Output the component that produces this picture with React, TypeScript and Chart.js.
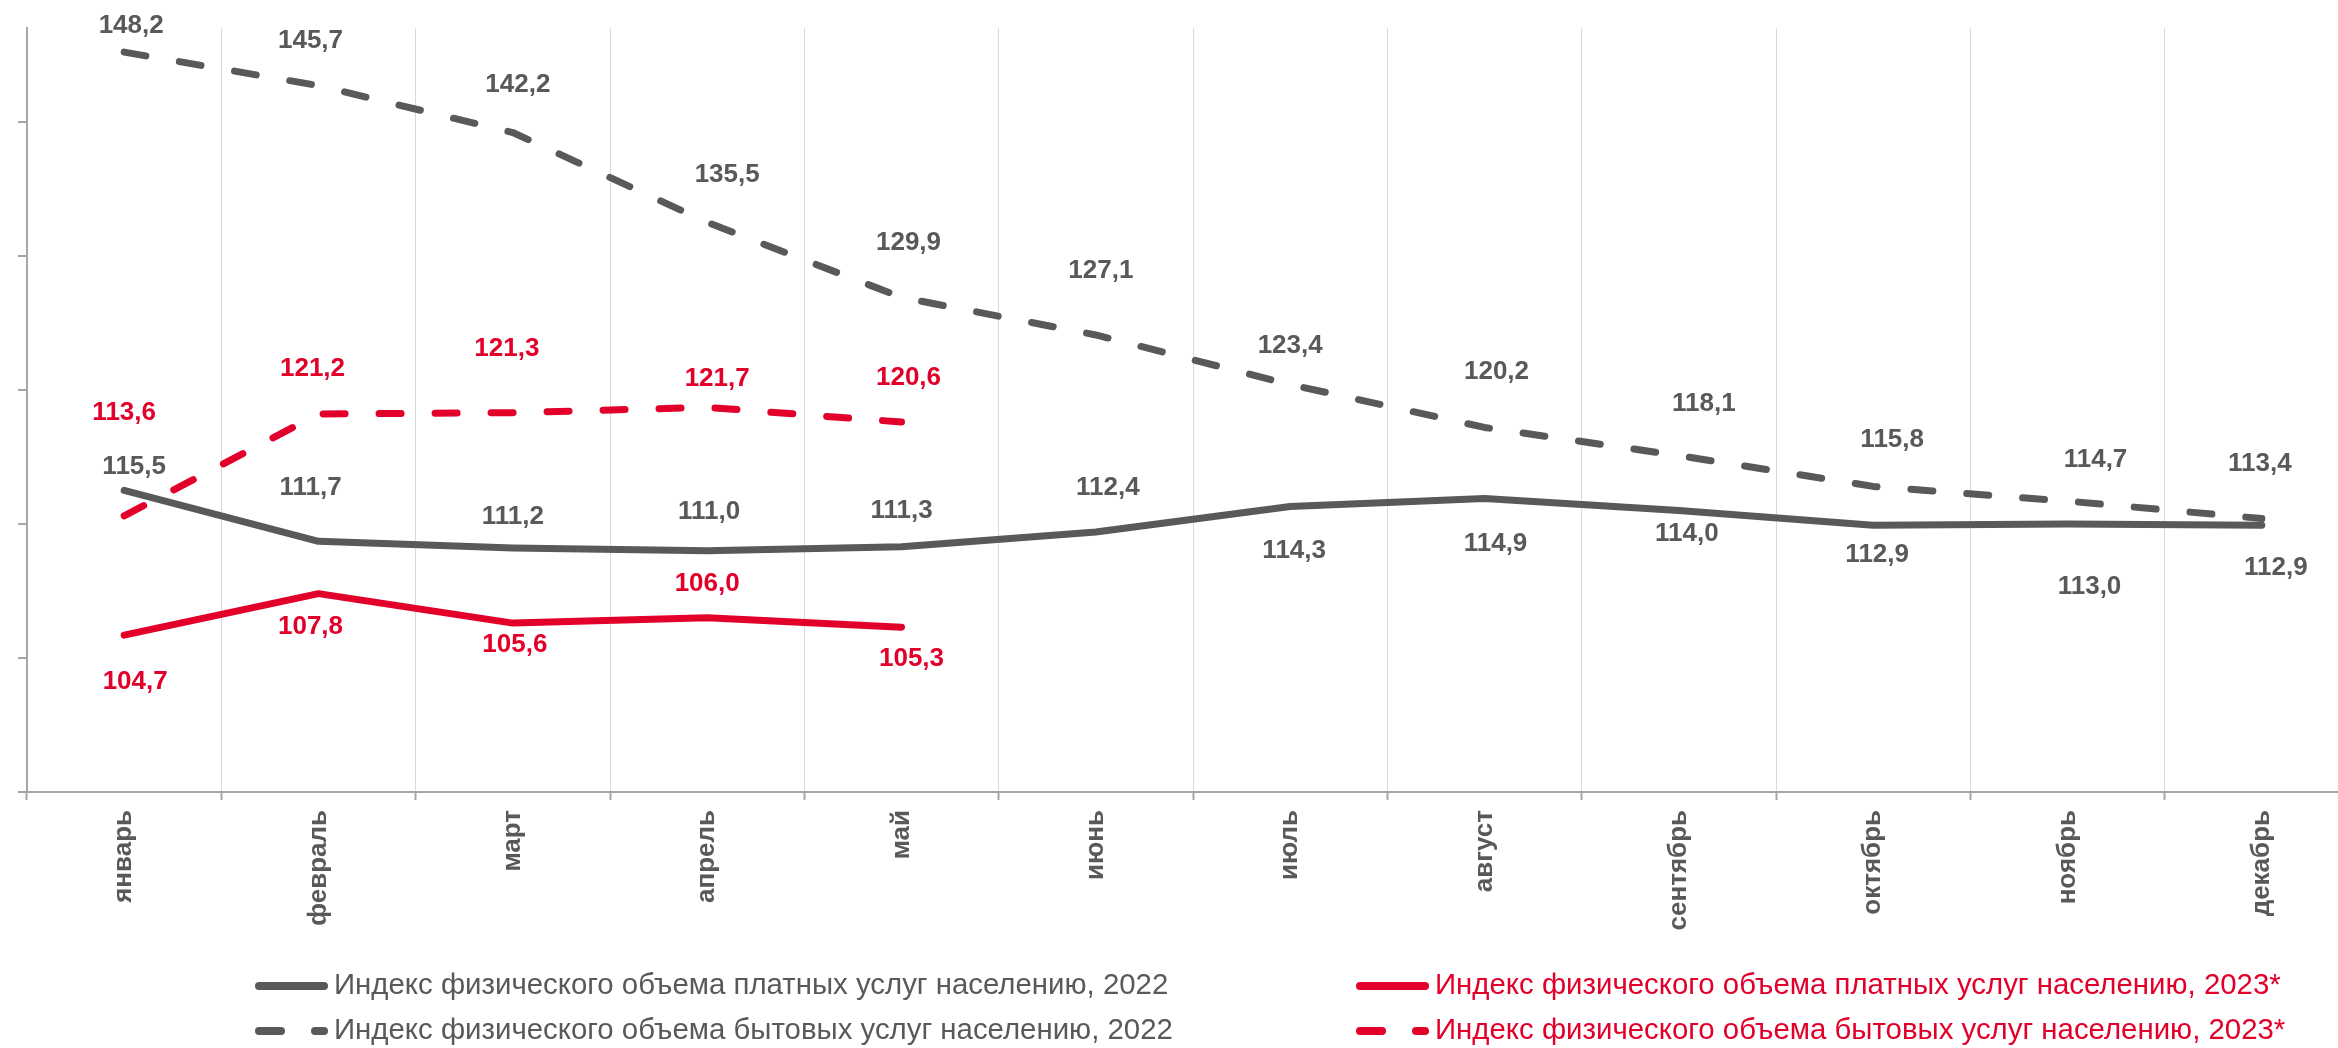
import React, { useEffect, useRef } from 'react';
import { Chart, registerables } from 'chart.js';

Chart.register(...registerables);

const months = ['январь', 'февраль', 'март', 'апрель', 'май', 'июнь', 'июль', 'август', 'сентябрь', 'октябрь', 'ноябрь', 'декабрь'];

const paid2022 = [115.5, 111.7, 111.2, 111.0, 111.3, 112.4, 114.3, 114.9, 114.0, 112.9, 113.0, 112.9];
const household2022 = [148.2, 145.7, 142.2, 135.5, 129.9, 127.1, 123.4, 120.2, 118.1, 115.8, 114.7, 113.4];
const paid2023 = [104.7, 107.8, 105.6, 106.0, 105.3, null, null, null, null, null, null, null];
const household2023 = [113.6, 121.2, 121.3, 121.7, 120.6, null, null, null, null, null, null, null];

const yTicks = [93, 103, 113, 123, 133, 143];
const yMin = 93;
const yMax = 150;

const seriesLabels = [
  'Индекс физического объема платных услуг населению, 2022',
  'Индекс физического объема бытовых услуг населению, 2022',
  'Индекс физического объема платных услуг населению, 2023*',
  'Индекс физического объема бытовых услуг населению, 2023*',
];

// label placement offsets (px) relative to each point, per series
const paid2022LabelOffsets = [[10, -24], [-8, -54], [0, -31], [2, -39], [0, -36], [12, -44], [4, 44], [11, 45], [8, 23], [4, 30], [22, 63], [14, 43]];
const household2022LabelOffsets = [[7, -26], [-8, -45], [5, -48], [20, -48], [7, -55], [5, -64], [0, -39], [12, -56], [25, -52], [19, -47], [28, -41], [-2, -55]];
const paid2023LabelOffsets = [[11, 47], [-8, 33], [2, 22], [0, -34], [10, 32]];
const household2023LabelOffsets = [[0, -103], [-6, -45], [-6, -64], [10, -28], [7, -44]];

const GRAY = '#595959';
const RED = '#E2002B';
const FONT = "'Liberation Sans', Arial, sans-serif";
const DASH = [22, 34];

const dataLabelPlugin = {
  id: 'dataLabels',
  afterDatasetsDraw(chart: any) {
    const ctx = chart.ctx;
    ctx.save();
    ctx.font = `bold 26px ${FONT}`;
    ctx.textAlign = 'center';
    ctx.textBaseline = 'middle';
    chart.data.datasets.forEach((ds: any, di: number) => {
      const meta = chart.getDatasetMeta(di);
      const offs = ds.labelOffsets || [];
      meta.data.forEach((pt: any, i: number) => {
        const v = ds.data[i];
        if (v === null || v === undefined) return;
        const o = offs[i] || [0, -30];
        ctx.fillStyle = ds.borderColor;
        ctx.fillText(Number(v).toFixed(1).replace('.', ','), pt.x + o[0], pt.y + o[1]);
      });
    });
    ctx.restore();
  },
};

const legendPlugin = {
  id: 'customLegend',
  afterDraw(chart: any) {
    const ctx = chart.ctx;
    const cols = [259, 1360];
    const rows = [986, 1031];
    const placement = [[0, 0], [0, 1], [1, 0], [1, 1]];
    ctx.save();
    chart.data.datasets.forEach((ds: any, di: number) => {
      const [c, r] = placement[di];
      const x = cols[c];
      const y = rows[r];
      ctx.strokeStyle = ds.borderColor;
      ctx.lineWidth = 8;
      ctx.lineCap = 'round';
      ctx.setLineDash(ds.borderDash && ds.borderDash.length ? ds.borderDash : []);
      ctx.beginPath();
      ctx.moveTo(x, y);
      ctx.lineTo(x + 65, y);
      ctx.stroke();
      ctx.setLineDash([]);
      ctx.fillStyle = ds.borderColor;
      ctx.font = `29.4px ${FONT}`;
      ctx.textAlign = 'left';
      ctx.textBaseline = 'middle';
      ctx.fillText(ds.label, x + 75, y);
    });
    ctx.restore();
  },
};

export default function App() {
  const canvasRef = useRef<HTMLCanvasElement | null>(null);

  useEffect(() => {
    if (!canvasRef.current) return;
    const lineBase = {
      borderWidth: 7,
      pointRadius: 0,
      pointHoverRadius: 0,
      tension: 0,
      fill: false,
      borderCapStyle: 'round',
      borderJoinStyle: 'round',
      spanGaps: false,
    };
    const chart = new Chart(canvasRef.current, {
      type: 'line',
      data: {
        labels: months,
        datasets: [
          { ...lineBase, label: seriesLabels[0], data: paid2022, borderColor: GRAY, backgroundColor: GRAY, labelOffsets: paid2022LabelOffsets },
          { ...lineBase, label: seriesLabels[1], data: household2022, borderColor: GRAY, backgroundColor: GRAY, borderDash: DASH, labelOffsets: household2022LabelOffsets },
          { ...lineBase, label: seriesLabels[2], data: paid2023, borderColor: RED, backgroundColor: RED, labelOffsets: paid2023LabelOffsets },
          { ...lineBase, label: seriesLabels[3], data: household2023, borderColor: RED, backgroundColor: RED, borderDash: DASH, labelOffsets: household2023LabelOffsets },
        ] as any,
      },
      options: {
        responsive: false,
        animation: false,
        events: [],
        devicePixelRatio: 1,
        layout: { padding: { top: 28, right: 21, bottom: 0, left: 0 } },
        plugins: {
          legend: { display: false },
          tooltip: { enabled: false },
        },
        scales: {
          x: {
            type: 'category',
            offset: true,
            grid: {
              offset: true,
              color: '#D9D9D9',
              lineWidth: 1,
              drawTicks: true,
              tickLength: 8,
              tickColor: '#A6A6A6',
              tickWidth: 2,
            },
            border: { display: true, color: '#A6A6A6', width: 2 },
            ticks: {
              color: GRAY,
              font: { family: FONT, size: 26, weight: 'bold' },
              minRotation: 90,
              maxRotation: 90,
              autoSkip: false,
              padding: 10,
            },
            afterFit: (scale: any) => {
              scale.height = 256;
            },
          },
          y: {
            type: 'linear',
            min: yMin,
            max: yMax,
            grid: {
              drawOnChartArea: false,
              drawTicks: true,
              tickLength: 9,
              color: '#A6A6A6',
              lineWidth: 2,
            },
            border: { display: true, color: '#A6A6A6', width: 2 },
            ticks: { display: false },
            afterBuildTicks: (scale: any) => {
              scale.ticks = yTicks.map((v) => ({ value: v }));
            },
            afterFit: (scale: any) => {
              scale.width = 27;
            },
          },
        },
      } as any,
      plugins: [dataLabelPlugin, legendPlugin],
    });
    return () => chart.destroy();
  }, []);

  return (
    <div style={{ position: 'absolute', left: 0, top: 0, width: 2338, height: 1048, overflow: 'hidden', background: '#fff' }}>
      <canvas ref={canvasRef} width={2380} height={1048} style={{ width: 2380, height: 1048, display: 'block' }} />
    </div>
  );
}
